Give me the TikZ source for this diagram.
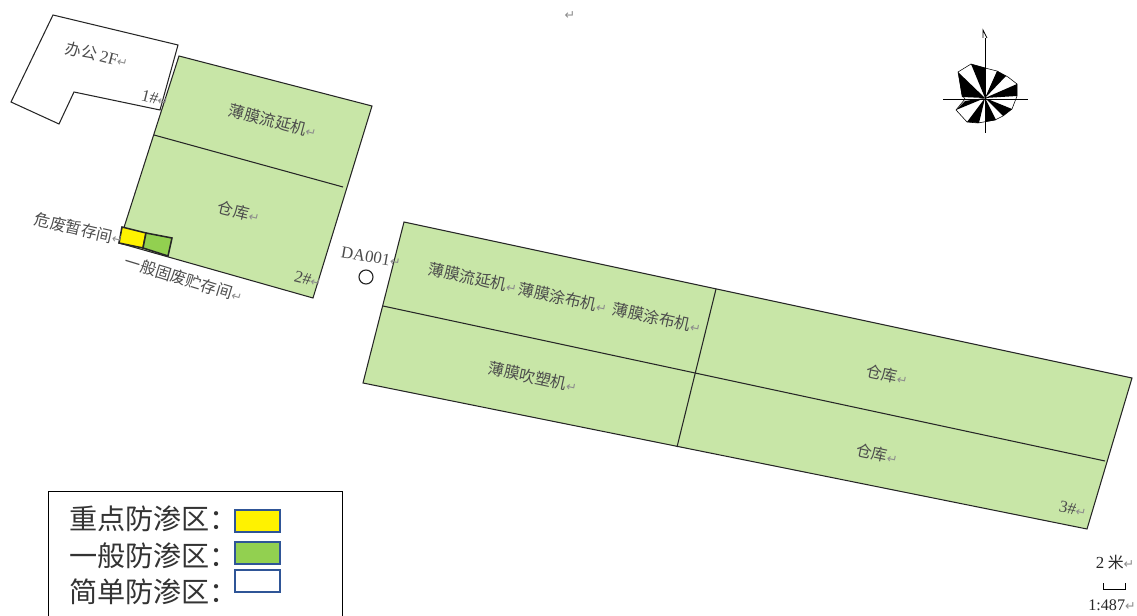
\documentclass[tikz,border=0pt]{standalone}
\usepackage{fontspec}
\setmainfont{Liberation Serif}
\newfontfamily\cjk{Noto Sans CJK SC}
\newfontfamily\symfont{DejaVu Sans}
\definecolor{zonegreen}{HTML}{C8E6A7}
\definecolor{midgreen}{HTML}{92D050}
\definecolor{swatchblue}{HTML}{2F5597}
\newcommand{\retmark}{{\symfont\textcolor{black!45}{\small ↵}}}
\tikzset{
    plan/.style={draw=black!85,line width=0.75pt,line join=miter},
    zone/.style={plan,fill=zonegreen},
    tag/.style={inner sep=0pt,text=black!70,font=\cjk\fontsize{11.3}{11.3}\selectfont},
    swatch/.style={draw=swatchblue,line width=1.5pt},
    legendtext/.style={inner sep=0pt,anchor=west,text=black!80,font=\cjk\fontsize{20}{20}\selectfont},
}
\begin{document}
\begin{tikzpicture}[x=0.025cm,y=-0.025cm]
    \useasboundingbox (0,0) rectangle (1137,616);
    % office
    \draw[plan] (53,15) -- (178,45) -- (160,110) -- (74,92) -- (59,124) -- (11,102) -- cycle;
    % building 2
    \draw[zone] (179,56) -- (372,106) -- (313,298) -- (119,243) -- cycle;
    \draw[plan] (154,135) -- (343,187);
    \draw[plan,fill=yellow,line width=1.1pt] (122,227) -- (146,233) -- (143,248) -- (119,243) -- cycle;
    \draw[plan,fill=midgreen,line width=1.1pt] (146,233) -- (172,238) -- (168,256) -- (143,248) -- cycle;
    % building 3
    \draw[zone] (404,222) -- (1132,378) -- (1087,529) -- (363,383) -- cycle;
    \draw[plan] (383,306) -- (1105,461);
    \draw[plan] (716,289) -- (677,447);
    \draw[plan,line width=0.8pt] (366,277) circle (7);
    % labels
    \node[tag] (topmark) at (570,16) {\retmark};
    \node[tag,rotate=-14] (office) at (97,55) {办公 {\rmfamily\fontsize{12}{12}\selectfont 2F}\retmark};
    \node[tag,rotate=-14] (numone) at (155,98) {{\rmfamily\fontsize{12}{12}\selectfont 1\#}\retmark};
    \node[tag,rotate=-15] (castA) at (273,121) {薄膜流延机\retmark};
    \node[tag,rotate=-14] (storeA) at (239,212) {仓库\retmark};
    \node[tag,rotate=-13] (hazard) at (79,229) {危废暂存间\retmark};
    \node[tag,rotate=-17] (waste) at (184,279) {一般固废贮存间\retmark};
    \node[tag,rotate=-14] (numtwo) at (308,279) {{\rmfamily\fontsize{12}{12}\selectfont 2\#}\retmark};
    \node[tag,rotate=-10] (outlet) at (371,257) {{\rmfamily\fontsize{12}{12}\selectfont DA001}\retmark};
    \node[tag,rotate=-12] (castB) at (473,278) {薄膜流延机\retmark};
    \node[tag,rotate=-12] (coatA) at (563,298) {薄膜涂布机\retmark};
    \node[tag,rotate=-12] (coatB) at (657,318) {薄膜涂布机\retmark};
    \node[tag,rotate=-12] (blow) at (533,377) {薄膜吹塑机\retmark};
    \node[tag,rotate=-12] (storeB) at (887,375) {仓库\retmark};
    \node[tag,rotate=-12] (storeC) at (877,454) {仓库\retmark};
    \node[tag,rotate=-12] (numthree) at (1073,509) {{\rmfamily\fontsize{12}{12}\selectfont 3\#}\retmark};
    % compass
    \draw[fill=white,draw=black,line width=0.4pt] (958,72) -- (971,64) -- (985,68) -- (997,71) -- (1008,77) -- (1017,84) -- (1017,96) -- (1012,109) -- (1003,116) -- (995,120) -- (978,123) -- (967,122) -- (956,110) -- (965,99) -- (962,95) -- cycle;
    \foreach \ax/\ay/\bx/\by in {958/72/962/97, 971/64/986/68, 997/71/1006/76, 1017/84/1017/96, 1012/109/1003/116, 996/120/985/122, 979/123/967/122, 956/110/965/101}
        \fill[black] (985,98) -- (\ax,\ay) -- (\bx,\by) -- cycle;
    \draw[black,line width=0.7pt] (943,99) -- (1028,99);
    \draw[black,line width=0.7pt] (985,38) -- (985,133);
    \draw[black,line width=0.5pt] (983,38) -- (983,30) -- (987,38);
    % legend
    \draw[black,line width=0.6pt] (48,616) -- (48,491) -- (342,491) -- (342,616);
    \node[legendtext] (keyA) at (69,519) {重点防渗区：};
    \node[legendtext] (keyB) at (69,556) {一般防渗区：};
    \node[legendtext] (keyC) at (69,592) {简单防渗区：};
    \draw[swatch,fill=yellow] (235,510) rectangle (280,532);
    \draw[swatch,fill=midgreen] (235,542) rectangle (280,564);
    \draw[swatch,fill=white] (235,570) rectangle (280,592);
    % scale
    \node[tag,text=black!85] (scaletext) at (1115,562) {{\rmfamily\fontsize{12}{12}\selectfont 2} 米\retmark};
    \draw[black,line width=0.6pt] (1103,583) -- (1103,589) -- (1125,589) -- (1125,583);
    \node[tag,text=black!85] (scaleratio) at (1112,605) {{\rmfamily\fontsize{11.5}{11.5}\selectfont 1:487}\retmark};
\end{tikzpicture}
\end{document}
